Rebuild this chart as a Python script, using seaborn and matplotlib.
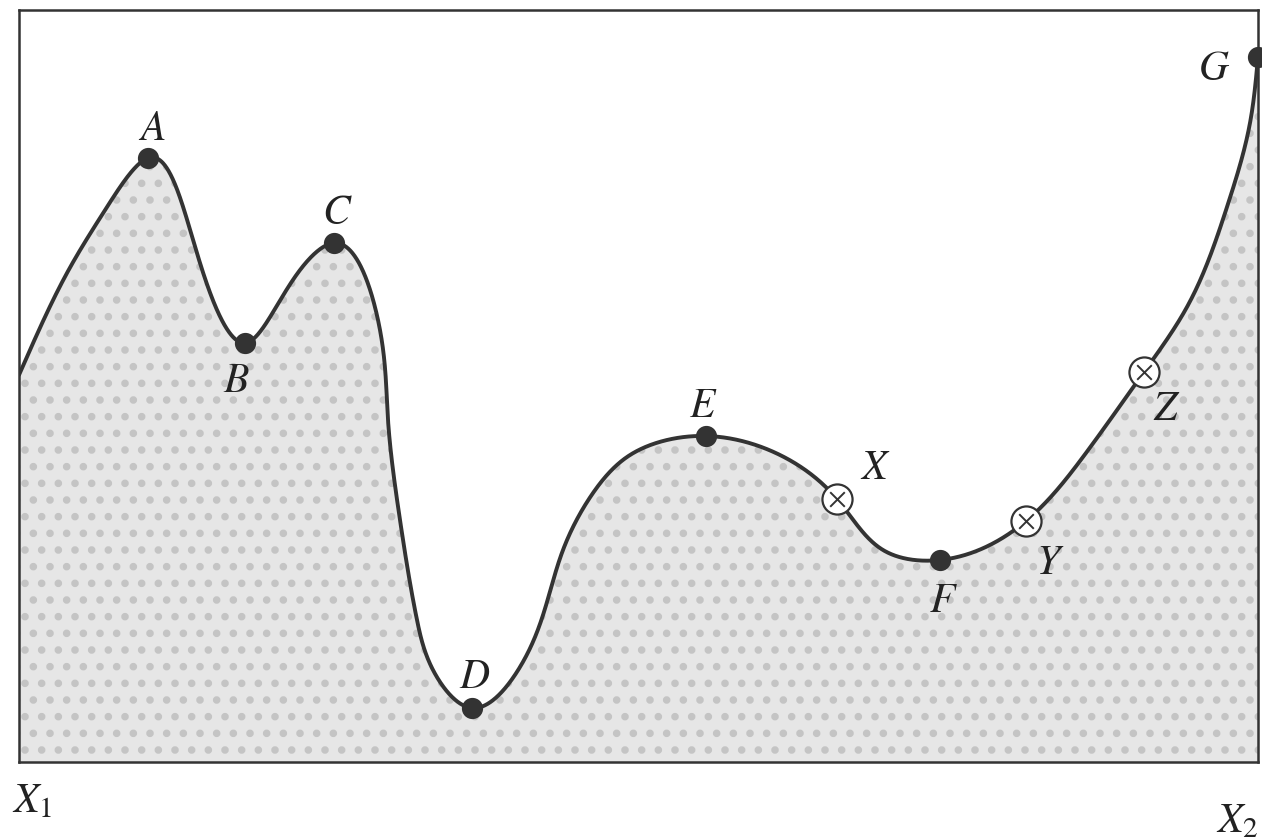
import numpy as np
import pandas as pd
import matplotlib
matplotlib.use("Agg")
import matplotlib.pyplot as plt
import seaborn as sns

# 曲线控制点（横坐标 0..1239，纵坐标 0..752，读自原图）
curve_x = [0, 48, 88, 129, 181, 226, 281, 315, 359, 369, 381, 398, 414,
           453, 501, 544, 574, 608, 648, 687, 761, 818, 864, 921, 1007,
           1064, 1125, 1168, 1208, 1231, 1239]
curve_y = [387, 489, 555, 604, 499, 419, 492, 519, 442, 342, 242, 142, 92,
           54, 95, 212, 269, 305, 322, 326, 307, 263, 212, 202, 241,
           305, 390, 455, 555, 639, 705]

# 标注点
point_labels = ["A", "B", "C", "D", "E", "F", "G", "X", "Y", "Z"]
point_x = [129, 226, 315, 453, 687, 921, 1239, 818, 1007, 1125]
point_y = [604, 419, 519, 54, 326, 202, 705, 263, 241, 390]
point_kind = ["peak", "peak", "peak", "peak", "peak", "peak", "peak",
              "cross", "cross", "cross"]

# 标签位置
label_x = [133, 217, 318, 456, 684, 924, 1195, 856, 1031, 1148]
label_y = [634, 382, 550, 86, 357, 162, 694, 295, 200, 354]
end_labels = ["$X_1$", "$X_2$"]
end_x = [13, 1218]
end_y = [-38, -58]


def natural_spline(t, v, ts):
    t = np.asarray(t, float)
    v = np.asarray(v, float)
    n = len(t)
    h = np.diff(t)
    A = np.zeros((n, n))
    b = np.zeros(n)
    A[0, 0] = A[-1, -1] = 1
    for i in range(1, n - 1):
        A[i, i - 1] = h[i - 1]
        A[i, i] = 2 * (h[i - 1] + h[i])
        A[i, i + 1] = h[i]
        b[i] = 6 * ((v[i + 1] - v[i]) / h[i] - (v[i] - v[i - 1]) / h[i - 1])
    M = np.linalg.solve(A, b)
    i = np.clip(np.searchsorted(t, ts) - 1, 0, n - 2)
    a = t[i + 1] - ts
    c = ts - t[i]
    return (M[i] * a**3 / (6 * h[i]) + M[i + 1] * c**3 / (6 * h[i])
            + (v[i] / h[i] - M[i] * h[i] / 6) * a
            + (v[i + 1] / h[i] - M[i + 1] * h[i] / 6) * c)


sns.set_style("white")
plt.rcParams["mathtext.fontset"] = "stix"
plt.rcParams["hatch.linewidth"] = 3.0
plt.rcParams["hatch.color"] = "#c4c4c4"

fig = plt.figure(figsize=(12.62, 8.4), dpi=100)
ax = fig.add_axes([19 / 1262, 78 / 840, 1239 / 1262, 752 / 840])

# 弦长参数化的自然三次样条
cx = np.asarray(curve_x, float)
cy = np.asarray(curve_y, float)
t = np.r_[0, np.cumsum(np.hypot(np.diff(cx), np.diff(cy)))]
ts = np.linspace(0, t[-1], 3000)
xs = natural_spline(t, cx, ts)
ys = natural_spline(t, cy, ts)
df = pd.DataFrame({"x": xs, "y": ys})

ax.fill(np.r_[xs, 1239, 0], np.r_[ys, 0, 0], facecolor="#e6e6e6",
        edgecolor="#c4c4c4", hatch=".", linewidth=0)
sns.lineplot(data=df, x="x", y="y", ax=ax, color="#333333", linewidth=2.8,
             sort=False, estimator=None)

pts = pd.DataFrame({"x": point_x, "y": point_y, "kind": point_kind})
peaks = pts[pts.kind == "peak"]
cross = pts[pts.kind == "cross"]
sns.scatterplot(data=peaks, x="x", y="y", ax=ax, s=200, color="#333333",
                edgecolor="#333333", zorder=5, clip_on=False)
sns.scatterplot(data=cross, x="x", y="y", ax=ax, s=470, color="white",
                edgecolor="#333333", linewidth=1.6, zorder=5)
sns.scatterplot(data=cross, x="x", y="y", ax=ax, s=110, marker="x",
                color="#333333", linewidth=1.4, zorder=6)

for lab, lx, ly in zip(point_labels, label_x, label_y):
    ax.text(lx, ly, f"${lab}$", fontsize=30, ha="center", va="center",
            color="#222222")
for lab, lx, ly in zip(end_labels, end_x, end_y):
    ax.text(lx, ly, lab, fontsize=30, ha="center", va="center",
            color="#222222", clip_on=False)

ax.set_xlim(0, 1239)
ax.set_ylim(0, 752)
ax.set_xticks([])
ax.set_yticks([])
ax.set_xlabel("")
ax.set_ylabel("")
for sp in ax.spines.values():
    sp.set_color("#333333")
    sp.set_linewidth(1.8)

fig.savefig("out.png", dpi=100)
